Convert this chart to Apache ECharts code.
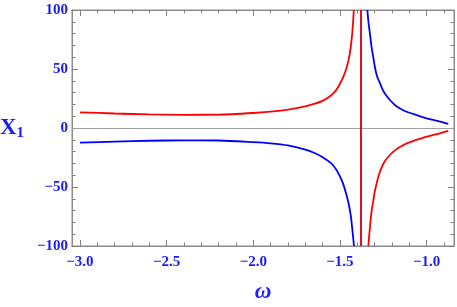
<!DOCTYPE html>
<html>
<head>
<meta charset="utf-8">
<script src="https://cdn.jsdelivr.net/npm/echarts@6/dist/echarts.min.js"></script>
<style>html,body{margin:0;padding:0;background:#fff;}#c{width:457px;height:307px;}</style>
</head>
<body>
<div id="c"></div>
<script>
// Data
var redLeftOmega  = [-3.0, -2.8, -2.6, -2.4, -2.2, -2.0, -1.9, -1.8, -1.7, -1.65, -1.6, -1.55, -1.52, -1.5, -1.48, -1.46, -1.45, -1.44, -1.435, -1.43, -1.425, -1.42];
var redLeftValue  = [13.3, 12.3, 11.5, 11.2, 11.3, 12.7, 13.9, 15.6, 18.3, 20.4, 23.0, 27.8, 32.5, 37.5, 43.5, 52.0, 58.0, 66.0, 72.0, 79.0, 88.0, 100.0];
var redRightOmega = [-1.336, -1.33, -1.325, -1.318, -1.308, -1.3, -1.29, -1.28, -1.269, -1.255, -1.24, -1.212, -1.19, -1.17, -1.14, -1.115, -1.06, -1.019, -0.97, -0.923, -0.875];
var redRightValue = [-100, -89, -81, -71, -62, -54.5, -48, -42, -37, -32, -28, -22.9, -19.8, -17.5, -15.0, -13.0, -10.0, -8.2, -6.2, -4.5, -2.5];
var blueLeftOmega  = [-3.0, -2.8, -2.6, -2.4, -2.2, -2.0, -1.9, -1.8, -1.7, -1.65, -1.6, -1.55, -1.52, -1.5, -1.48, -1.46, -1.45, -1.44, -1.435, -1.43, -1.425, -1.419];
var blueLeftValue  = [-12.4, -11.5, -10.8, -10.5, -10.6, -12.0, -13.0, -14.8, -18.3, -21.0, -24.7, -30.0, -35.5, -41.0, -48.0, -58.0, -64.0, -72.0, -77.0, -84.0, -91.0, -100.0];
var blueRightOmega = [-1.342, -1.335, -1.327, -1.318, -1.308, -1.3, -1.29, -1.28, -1.269, -1.255, -1.24, -1.212, -1.19, -1.17, -1.14, -1.115, -1.06, -1.019, -0.97, -0.923, -0.875];
var blueRightValue = [100, 89, 80, 69, 60, 53, 46, 41.5, 37.9, 33, 29, 23.7, 20.5, 18, 15.5, 13.8, 11, 9.0, 7.0, 5.4, 3.4];
var asymptote = [-1.38];
var xMajorTicks = [-3.0, -2.5, -2.0, -1.5, -1.0];
var xMinorTicks = [-3.0, -2.9, -2.8, -2.7, -2.6, -2.5, -2.4, -2.3, -2.2, -2.1, -2.0, -1.9, -1.8, -1.7, -1.6, -1.5, -1.4, -1.3, -1.2, -1.1, -1.0, -0.9];
var yTicks = [-100, -50, 0, 50, 100];
var xRange = [-3.046, -0.842];

function pairs(xs, ys) { return xs.map(function (x, i) { return [x, ys[i]]; }); }
function minus(v, d) { var s = Math.abs(v).toFixed(d); return v < 0 ? '\u2212' + s : s; }

var frameColor = '#8a8a8a';
var tickColor = '#808080';
var labelColor = '#1a1aff';
var serif = 'Liberation Serif';

function xAx(pos, ticks, len, labels, name) {
  var a = {
    type: 'value', position: pos, min: xRange[0], max: xRange[1],
    axisLine: { show: true, onZero: false, lineStyle: { color: frameColor, width: 1 } },
    axisTick: { show: true, inside: true, length: len, customValues: ticks, lineStyle: { color: tickColor, width: 1 } },
    axisLabel: labels ? { show: true, customValues: xMajorTicks, margin: 9, color: labelColor, fontFamily: serif, fontWeight: 'bold', fontSize: 15,
      formatter: function (v) { return minus(v, 1); } } : { show: false },
    splitLine: { show: false }
  };
  if (name) {
    a.name = name; a.nameLocation = 'middle'; a.nameGap = 35;
    a.nameTextStyle = { color: labelColor, fontFamily: serif, fontWeight: 'bold', fontStyle: 'italic', fontSize: 23 };
  }
  return a;
}
function yAx(pos, labels, name) {
  var a = {
    type: 'value', position: pos, min: yTicks[0], max: yTicks[yTicks.length - 1], interval: 50,
    axisLine: { show: true, onZero: false, lineStyle: { color: frameColor, width: 1 } },
    axisTick: { show: true, inside: true, length: 6, lineStyle: { color: tickColor, width: 1 } },
    minorTick: { show: true, splitNumber: 5, length: 3.5, lineStyle: { color: tickColor, width: 1 } },
    axisLabel: labels ? { show: true, margin: 4, color: labelColor, fontFamily: serif, fontWeight: 'bold', fontSize: 15,
      formatter: function (v) { return minus(v, 0); } } : { show: false },
    splitLine: { show: false }
  };
  if (name) {
    a.name = '{x|X}{s|1}'; a.nameLocation = 'middle'; a.nameGap = 48; a.nameRotate = 0;
    a.nameTextStyle = { rich: {
      x: { color: labelColor, fontFamily: serif, fontWeight: 'bold', fontSize: 23 },
      s: { color: labelColor, fontFamily: serif, fontWeight: 'bold', fontSize: 15, padding: [10, 0, 0, 0] }
    } };
  }
  return a;
}

var chart = echarts.init(document.getElementById('c'));
var lineCommon = { type: 'line', showSymbol: false, smooth: 0.25, xAxisIndex: 0, yAxisIndex: 0 };
chart.setOption({
  animation: false,
  grid: { left: 72, right: 3, top: 10, bottom: 61, outerBoundsMode: 'none',
    show: true, backgroundColor: 'transparent', borderColor: frameColor, borderWidth: 1 },
  xAxis: [
    xAx('bottom', xMajorTicks, 6, true, '\u03c9'),
    xAx('bottom', xMinorTicks, 3.5, false),
    xAx('top', xMajorTicks, 6, false),
    xAx('top', xMinorTicks, 3.5, false)
  ],
  yAxis: [
    yAx('left', true, true),
    yAx('right', false, false)
  ],
  series: [
    Object.assign({}, lineCommon, {
      name: 'zero', data: [],
      markLine: { silent: true, symbol: 'none', label: { show: false },
        lineStyle: { color: '#a0a0a0', width: 1.2, type: 'solid' }, data: [{ yAxis: 0 }] }
    }),
    Object.assign({}, lineCommon, { name: 'red L', data: pairs(redLeftOmega, redLeftValue), lineStyle: { color: '#ff0000', width: 1.8 }, itemStyle: { color: '#ff0000' } }),
    Object.assign({}, lineCommon, { name: 'red R', data: pairs(redRightOmega, redRightValue), lineStyle: { color: '#ff0000', width: 1.8 }, itemStyle: { color: '#ff0000' } }),
    Object.assign({}, lineCommon, { name: 'blue L', data: pairs(blueLeftOmega, blueLeftValue), lineStyle: { color: '#0000ff', width: 1.8 }, itemStyle: { color: '#0000ff' } }),
    Object.assign({}, lineCommon, { name: 'blue R', data: pairs(blueRightOmega, blueRightValue), lineStyle: { color: '#0000ff', width: 1.8 }, itemStyle: { color: '#0000ff' } }),
    Object.assign({}, lineCommon, {
      name: 'asymptote', data: [],
      markLine: { silent: true, symbol: 'none', label: { show: false },
        lineStyle: { color: '#d8102a', width: 2, type: 'solid' }, data: asymptote.map(function (v) { return { xAxis: v }; }) }
    })
  ]
});
</script>
</body>
</html>
